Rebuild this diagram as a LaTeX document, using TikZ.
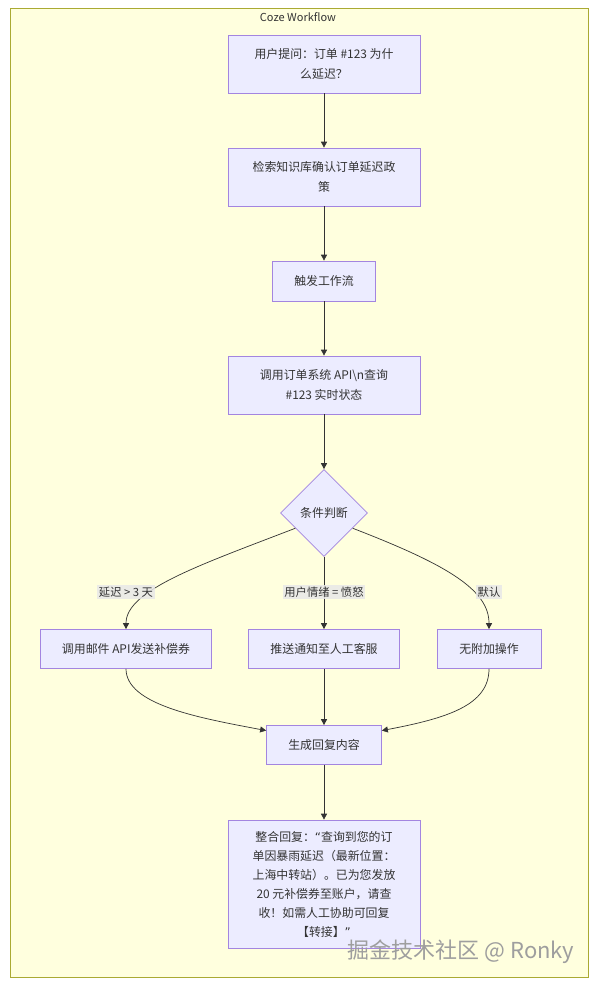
\documentclass[tikz,border=0pt]{standalone}
\usepackage{fontspec}
\setmainfont{Noto Sans CJK SC}
\newfontfamily\quotefont{DejaVu Sans}
\usetikzlibrary{arrows.meta,shapes.geometric}
\definecolor{cozebg}{HTML}{FFFFDE}
\definecolor{cozeframe}{HTML}{AAAA33}
\definecolor{cozefill}{HTML}{ECECFF}
\definecolor{cozeline}{HTML}{9370DB}
\definecolor{cozeink}{HTML}{333333}
\definecolor{cozelbl}{HTML}{E8E8E8}

\begin{document}
\begin{tikzpicture}[x=1pt,y=-1pt,
    stepbox/.style={draw=cozeline!85,fill=cozefill,line width=0.7pt,align=center,inner sep=0pt,
      font=\fontsize{11.9}{20}\selectfont,text=cozeink},
    flow/.style={draw=cozeink,line width=0.7pt,-{Triangle[length=6pt,width=6pt]}},
    lbl/.style={fill=cozelbl,fill opacity=0.85,text opacity=1,inner sep=1.5pt,
      font=\fontsize{11.3}{13}\selectfont,text=cozeink}]
  \useasboundingbox (0,0) rectangle (597,986);
  % outer group
  \draw[draw=cozeframe,fill=cozebg,line width=0.8pt] (10,8) rectangle (588,977);
  \node[font=\fontsize{11}{13}\selectfont,text=cozeink] (title) at (298,17) {Coze Workflow};

  % main column
  \node[stepbox,minimum width=192pt,minimum height=58pt] (ask) at (324,64) {用户提问：订单 \#123 为什\\么延迟？};
  \node[stepbox,minimum width=192pt,minimum height=58pt] (kb) at (324,177) {检索知识库确认订单延迟政\\策};
  \node[stepbox,minimum width=103pt,minimum height=40pt] (trig) at (324,281) {触发工作流};
  \node[stepbox,minimum width=192pt,minimum height=58pt] (api) at (324,385) {调用订单系统 API\textbackslash n查询\\\#123 实时状态};
  \node[stepbox,shape=diamond,minimum width=87pt,minimum height=87pt] (cond) at (324,513) {条件判断};

  % branches
  \node[stepbox,minimum width=171pt,minimum height=39pt] (mail) at (126,649) {调用邮件 API发送补偿券};
  \node[stepbox,minimum width=151pt,minimum height=39pt] (agent) at (324,649) {推送通知至人工客服};
  \node[stepbox,minimum width=104pt,minimum height=39pt] (none) at (489,649) {无附加操作};

  \node[stepbox,minimum width=115pt,minimum height=39pt] (gen) at (324,745) {生成回复内容};
  \node[stepbox,minimum width=192pt,minimum height=128pt,font=\fontsize{11.9}{19}\selectfont] (reply) at (324,884)
    {整合回复：{\quotefont “}查询到您的订\\单因暴雨延迟（最新位置：\\上海中转站）。已为您发放\\20 元补偿券至账户，请查\\收！如需人工协助可回复\\【转接】{\quotefont ”}};

  % connectors
  \draw[flow] (ask) -- (kb);
  \draw[flow] (kb) -- (trig);
  \draw[flow] (trig) -- (api);
  \draw[flow] (api) -- (cond);
  \draw[flow] (cond.208) .. controls (200,565) and (126,590) .. (mail.north);
  \draw[flow] (cond.south) -- (agent.north);
  \draw[flow] (cond.-28) .. controls (448,565) and (489,590) .. (none.north);
  \draw[flow] (mail.south) .. controls (126,705) and (200,718) .. (gen.166);
  \draw[flow] (agent) -- (gen);
  \draw[flow] (none.south) .. controls (489,705) and (448,718) .. (gen.14);
  \draw[flow] (gen) -- (reply);

  % edge labels
  \node[lbl] (lmail) at (126,592) {延迟 > 3 天};
  \node[lbl] (lagent) at (324,592) {用户情绪 = 愤怒};
  \node[lbl] (lnone) at (489,592) {默认};

  \node[font=\fontsize{22}{24}\selectfont,text=black!38] (mark) at (461,952) {掘金技术社区 @ Ronky};
\end{tikzpicture}
\end{document}
